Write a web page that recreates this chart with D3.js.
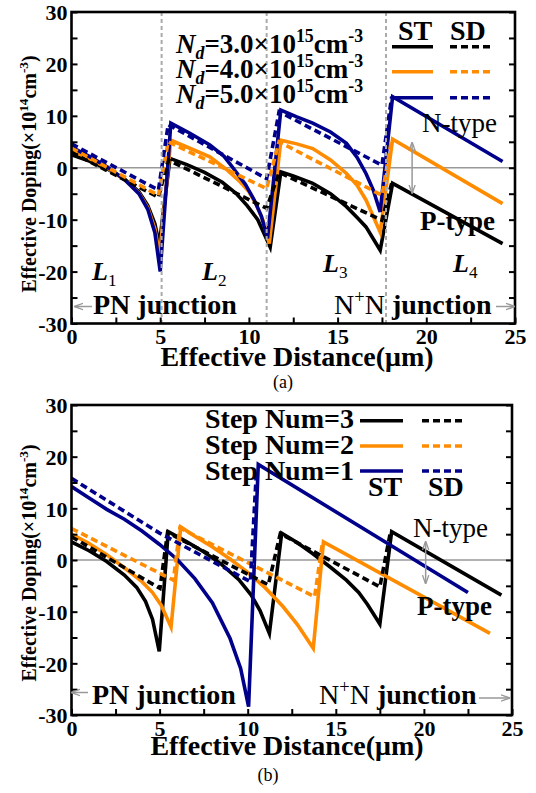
<!DOCTYPE html>
<html lang="en">
<head>
<meta charset="UTF-8">
<title>effective-doping</title>
<script src="https://cdn.jsdelivr.net/npm/d3@7"></script>
<style>
  body { margin: 0; background: #fff; }
  text { font-family: "Liberation Serif", "Times New Roman", serif; fill: #000; }
</style>
</head>
<body>
<script>
// axis ticks
let xTicks = [0, 2.5, 5, 7.5, 10, 12.5, 15, 17.5, 20, 22.5, 25];
let yTicks = [-30, -25, -20, -15, -10, -5, 0, 5, 10, 15, 20, 25, 30];

// panel (a): Nd = 3.0 / 4.0 / 5.0 x10^15 cm^-3, [distance um, doping x10^14]
let ndLabels = ['3.0', '4.0', '5.0'];
let dividersA = [5.08, 11.0, 17.73];
let aST3 = [[0, 2.5], [1, 1.3], [2, -0.2], [3, -2.2], [3.8, -4.6], [4.3, -7.3], [4.7, -10.8], [4.95, -14.8],
  [5.55, 1.8], [6.5, 0.6], [7.5, -0.9], [8.5, -2.8], [9.3, -5.0], [9.9, -7.3], [10.5, -10.0], [11.2, -15.3],
  [11.8, -0.8], [12.5, -1.6], [13.6, -3.0], [14.6, -5.0], [15.5, -7.5], [16.1, -9.6], [16.6, -11.4], [17.4, -15.9],
  [18.1, -3.0], [24.3, -14.6]];
let aST4 = [[0, 3.3], [1, 1.8], [2, 0.0], [3, -2.3], [3.8, -4.9], [4.3, -7.7], [4.7, -11.8], [4.97, -16.8],
  [5.6, 5.3], [6.5, 4.0], [7.8, 2.1], [8.8, -0.5], [9.5, -2.7], [10.0, -4.6], [10.43, -7.2], [10.8, -10.2], [11.15, -14.6],
  [11.8, 5.3], [12.7, 4.6], [13.6, 3.7], [14.6, 1.5], [15.5, -1.1], [16.1, -3.4], [16.6, -6.2], [17.4, -12.4],
  [18.1, 5.5], [24.3, -6.9]];
let aST5 = [[0, 4.0], [1, 2.2], [2, 0.2], [3, -2.3], [3.8, -5.0], [4.3, -8.0], [4.7, -12.5], [5.0, -20],
  [5.6, 8.6], [6.7, 6.6], [7.8, 4.4], [8.6, 2.2], [9.1, 0], [9.8, -3.2], [10.3, -6.2], [10.7, -9.3], [11.05, -13.6],
  [11.8, 11.1], [12.7, 9.8], [13.6, 8.6], [14.6, 6.9], [15.5, 4.7], [16.1, 2.0], [16.6, -1.1], [17.0, -4.2], [17.4, -8.5],
  [18.1, 13.7], [24.3, 1.2]];
let aSD3 = [[0, 3.0], [4.9, -5.7], [5.45, 1.5], [11.0, -7.8], [11.7, -0.9], [17.5, -10.1], [18.05, -3.0]];
let aSD4 = [[0, 3.8], [4.9, -5.3], [5.45, 5.0], [11.0, -4.0], [11.7, 5.0], [17.5, -5.3], [18.05, 5.5]];
let aSD5 = [[0, 4.6], [4.9, -4.3], [5.45, 8.3], [11.0, -2.1], [11.7, 10.8], [17.5, 0.5], [18.05, 13.7]];

// panel (b): step number 3 / 2 / 1
let stepNums = [3, 2, 1];
let bST3 = [[0, 3.5], [1, 1.8], [2, -0.3], [3, -2.9], [3.7, -5.3], [4.2, -8.0], [4.6, -11.5], [4.98, -17.7],
  [5.49, 5.5], [6.5, 3.6], [7.5, 1.6], [8.5, -0.8], [9.5, -3.8], [10.2, -6.8], [10.7, -9.8], [11.23, -14.2],
  [11.93, 5.2], [12.8, 3.4], [13.7, 1.2], [14.7, -1.4], [15.6, -3.9], [16.3, -6.3], [16.8, -8.6], [17.5, -12.4],
  [18.17, 5.5], [24.4, -6.8]];
let bST2 = [[0, 5.0], [1, 3.2], [2, 1.0], [3, -1.5], [4, -4.2], [4.6, -6.3], [5.1, -8.8], [5.65, -13.0],
  [6.2, 6.4], [7, 4.6], [8, 2.5], [9, 0.2], [10, -2.4], [11, -5.4], [12, -9.0], [12.8, -12.4], [13.72, -17.1],
  [14.3, 3.5], [23.75, -14.2]];
let bST1 = [[0, 14.2], [1, 12.0], [2, 9.8], [3, 7.9], [4, 5.6], [5, 3.0], [6, 0.1], [7, -3.6], [8, -8.3],
  [9, -15.2], [9.6, -21], [10.05, -28.4], [10.6, 18.5], [22.5, -6.3]];
let bSD3 = [[0, 4.5], [5.02, -5.5], [5.45, 5.3], [11.17, -4.8], [11.85, 5.1], [17.5, -5.2], [18.1, 5.4]];
let bSD2 = [[0, 6.1], [5.78, -3.9], [6.15, 6.2], [13.8, -7.1], [14.25, 3.5]];
let bSD1 = [[0, 15.8], [5, 5.2], [10.15, -4.2], [10.5, 17.5]];

let colors = ['#000000', '#ff8c00', '#00008b'];
let gray = '#999999';

let svg = d3.select('body')
  .append('svg')
  .attr('width', 536)
  .attr('height', 793);

let defs = svg.append('defs');
defs.append('marker')
  .attr('id', 'head')
  .attr('viewBox', '0 0 10 10')
  .attr('refX', 9).attr('refY', 5)
  .attr('markerWidth', 6).attr('markerHeight', 6)
  .attr('orient', 'auto-start-reverse')
  .append('path')
  .attr('d', 'M0,1.5 L10,5 L0,8.5')
  .attr('fill', 'none')
  .attr('stroke', gray)
  .attr('stroke-width', 1.5);

// text with italic / sub / sup pieces
function richText(g, x, y, size, parts, anchor) {
  let t = g.append('text')
    .attr('x', x).attr('y', y)
    .attr('font-size', size)
    .attr('font-weight', 'bold')
    .attr('text-anchor', anchor || 'start');
  let shift = 0;
  parts.forEach(function (p) {
    if (typeof p === 'string') p = { t: p };
    let target = p.sup ? -0.4 * size : p.sub ? 0.22 * size : 0;
    let s = t.append('tspan').text(p.t).attr('dy', target - shift);
    shift = target;
    if (p.sup || p.sub) s.attr('font-size', size * 0.66);
    if (p.i) s.attr('font-style', 'italic');
    if (p.n) s.attr('font-weight', 'normal');
  });
  return t;
}

function renderPanel(p) {
  let x = d3.scaleLinear().domain([0, 25]).range([p.left, p.right]);
  let y = d3.scaleLinear().domain([-30, 30]).range([p.bottom, p.top]);
  let g = svg.append('g');

  let clipId = 'clip' + p.name;
  defs.append('clipPath').attr('id', clipId)
    .append('rect')
    .attr('x', p.left).attr('y', p.top)
    .attr('width', p.right - p.left).attr('height', p.bottom - p.top);

  // zero line
  g.append('line')
    .attr('x1', x(0)).attr('x2', x(25))
    .attr('y1', y(0)).attr('y2', y(0))
    .attr('stroke', gray).attr('stroke-width', 1.6);

  let line = d3.line()
    .x(function (d) { return x(d[0]); })
    .y(function (d) { return y(d[1]); });

  let curves = g.append('g').attr('clip-path', 'url(#' + clipId + ')');
  p.series.forEach(function (s) {
    curves.append('path')
      .attr('d', line(s.data))
      .attr('fill', 'none')
      .attr('stroke', s.color)
      .attr('stroke-width', 3.6)
      .attr('stroke-linejoin', 'miter')
      .attr('stroke-dasharray', s.dash ? '7,4' : null);
  });

  // section dividers
  (p.dividers || []).forEach(function (d) {
    g.append('line')
      .attr('x1', x(d)).attr('x2', x(d))
      .attr('y1', p.top).attr('y2', p.bottom)
      .attr('stroke', '#aaaaaa').attr('stroke-width', 2)
      .attr('stroke-dasharray', '4,3');
  });

  // N-type / P-type arrow
  g.append('line')
    .attr('x1', x(p.arrow[0])).attr('x2', x(p.arrow[0]))
    .attr('y1', y(p.arrow[1])).attr('y2', y(p.arrow[2]))
    .attr('stroke', gray).attr('stroke-width', 1.5)
    .attr('marker-start', 'url(#head)')
    .attr('marker-end', 'url(#head)');

  // axes with inward ticks
  let fmt = function (d) { return d % 10 === 0 ? String(d) : ''; };
  let fmtX = function (d) { return d % 5 === 0 ? String(d) : ''; };
  let left = g.append('g')
    .attr('transform', 'translate(' + p.left + ',0)')
    .call(d3.axisLeft(y).tickValues(yTicks).tickSize(-6).tickPadding(4).tickFormat(fmt));
  let right = g.append('g')
    .attr('transform', 'translate(' + p.right + ',0)')
    .call(d3.axisRight(y).tickValues(yTicks).tickSize(-6).tickFormat(''));
  let bottom = g.append('g')
    .attr('transform', 'translate(0,' + p.bottom + ')')
    .call(d3.axisBottom(x).tickValues(xTicks).tickSize(-6).tickPadding(4).tickFormat(fmtX));
  [left, right, bottom].forEach(function (a) {
    a.select('.domain').remove();
    a.selectAll('line').attr('stroke', '#000').attr('stroke-width', 2);
    a.selectAll('text')
      .attr('font-family', '"Liberation Serif", serif')
      .attr('font-size', 22)
      .attr('font-weight', 'bold')
      .attr('fill', '#000');
  });
  left.selectAll('text').attr('dy', '0.36em');
  bottom.selectAll('text').attr('dy', '0.76em');

  g.append('rect')
    .attr('x', p.left).attr('y', p.top)
    .attr('width', p.right - p.left).attr('height', p.bottom - p.top)
    .attr('fill', 'none').attr('stroke', '#000').attr('stroke-width', 2.6);

  // axis titles
  let yl = g.append('g')
    .attr('transform', 'translate(36,' + p.yTitleY + ') rotate(-90)');
  richText(yl, 0, 0, 20, ['Effective Doping(×10', { t: '14', sup: 1 }, 'cm', { t: '-3', sup: 1 }, ')'], 'middle');
  richText(g, p.xTitleX, p.xTitleY, 28, ['Effective Distance(μm)'], 'middle');
  g.append('text')
    .attr('x', p.capX).attr('y', p.capY)
    .attr('font-size', 18)
    .attr('text-anchor', 'middle')
    .text(p.name === 'a' ? '(a)' : '(b)');

  // junction notes
  richText(g, p.pnX, p.junY, 28, ['PN junction']);
  richText(g, p.nnX, p.junY, 28, [{ t: 'N', n: 1 }, { t: '+', sup: 1, n: 1 }, { t: 'N', n: 1 }, ' junction']);
  g.append('line')
    .attr('x1', p.pnArrow[0]).attr('x2', p.pnArrow[1])
    .attr('y1', p.pnArrow[2]).attr('y2', p.pnArrow[2])
    .attr('stroke', gray).attr('stroke-width', 1.5)
    .attr('marker-end', 'url(#head)');
  g.append('line')
    .attr('x1', p.nnArrow[0]).attr('x2', p.nnArrow[1])
    .attr('y1', p.nnArrow[2]).attr('y2', p.nnArrow[2])
    .attr('stroke', gray).attr('stroke-width', 1.5)
    .attr('marker-end', 'url(#head)');

  richText(g, p.nType[0], p.nType[1], 27, [{ t: 'N-type', n: 1 }]);
  richText(g, p.pType[0], p.pType[1], 27, ['P-type']);
  return g;
}

function legendLines(g, x1, x2, x3, x4, ys) {
  ys.forEach(function (yy, i) {
    g.append('line').attr('x1', x1).attr('x2', x2).attr('y1', yy).attr('y2', yy)
      .attr('stroke', colors[i]).attr('stroke-width', 3.6);
    g.append('line').attr('x1', x3).attr('x2', x4).attr('y1', yy).attr('y2', yy)
      .attr('stroke', colors[i]).attr('stroke-width', 3.6).attr('stroke-dasharray', '7,4');
  });
}

// ----- panel (a)
let ga = renderPanel({
  name: 'a', left: 71.5, right: 515, top: 12, bottom: 323.5,
  series: [
    { data: aST3, color: colors[0] }, { data: aST4, color: colors[1] }, { data: aST5, color: colors[2] },
    { data: aSD3, color: colors[0], dash: 1 }, { data: aSD4, color: colors[1], dash: 1 }, { data: aSD5, color: colors[2], dash: 1 }
  ],
  dividers: dividersA,
  arrow: [19.2, 4.8, -4.8],
  yTitleY: 174, xTitleX: 297, xTitleY: 366, capX: 283, capY: 388,
  pnX: 93, nnX: 334, junY: 314, pnArrow: [92, 75, 306.5], nnArrow: [496, 514, 306.5],
  nType: [422, 132], pType: [420, 230]
});
ndLabels.forEach(function (v, i) {
  richText(ga, 176, 53 + i * 25, 27, [{ t: 'N', i: 1 }, { t: 'd', i: 1, sub: 1 }, '=' + v + '×10',
    { t: '15', sup: 1 }, 'cm', { t: '-3', sup: 1 }]);
});
richText(ga, 398, 40, 28, ['ST']);
richText(ga, 450, 40, 28, ['SD']);
legendLines(ga, 392, 433, 450, 490, [46.7, 71.7, 97.7]);
[['1', 92, 280], ['2', 202, 280], ['3', 323, 272], ['4', 453, 272]].forEach(function (l) {
  richText(ga, l[1], l[2], 26, [{ t: 'L', i: 1 }, { t: l[0], sub: 1, n: 1 }]);
});

// ----- panel (b)
let gb = renderPanel({
  name: 'b', left: 71.5, right: 512, top: 405, bottom: 715,
  series: [
    { data: bST3, color: colors[0] }, { data: bST2, color: colors[1] }, { data: bST1, color: colors[2] },
    { data: bSD3, color: colors[0], dash: 1 }, { data: bSD2, color: colors[1], dash: 1 }, { data: bSD1, color: colors[2], dash: 1 }
  ],
  arrow: [20.1, 3.5, -4.5],
  yTitleY: 563, xTitleX: 287, xTitleY: 755, capX: 268, capY: 781,
  pnX: 92, nnX: 319, junY: 704, pnArrow: [88, 72, 692.5], nnArrow: [479, 509, 698],
  nType: [413, 537], pType: [417, 615]
});
stepNums.forEach(function (v, i) {
  richText(gb, 205, 428 + i * 26, 28, ['Step Num=' + v]);
});
legendLines(gb, 360, 403, 422, 462, [420.7, 446, 471]);
richText(gb, 368, 496, 28, ['ST']);
richText(gb, 428, 496, 28, ['SD']);
</script>
</body>
</html>
